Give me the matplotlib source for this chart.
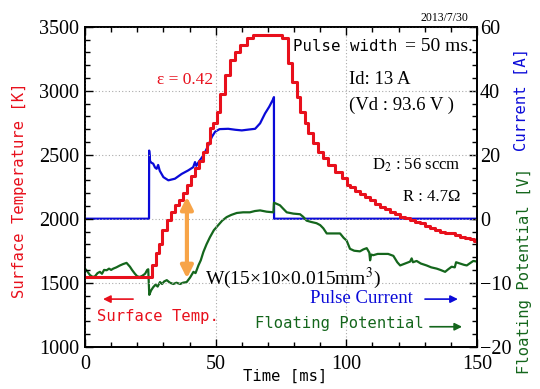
import matplotlib
matplotlib.use("Agg")
import matplotlib.pyplot as plt
from matplotlib.ticker import MultipleLocator, FixedLocator

plt.rcParams["font.family"] = ["Liberation Serif", "DejaVu Serif"]
plt.rcParams["mathtext.fontset"] = "stix"
MONO = "DejaVu Sans Mono"

RED = "#e8101c"
BLUE = "#0a0ad8"
GREEN = "#14661c"
ORANGE = "#f7a448"

# surface temperature [K], stepwise camera frames (time [ms], value)
t_temp = [0, 25.5, 27.0, 28.5, 29.5, 31.3, 32.8, 34.4, 36.0, 37.6, 39.0, 40.6,
          42.1, 43.6, 45.3, 46.6, 47.8, 49.1, 50.4, 51.7, 53.6, 55.5, 57.4,
          59.3, 61.9, 64.4, 75.5, 77.8, 79.1, 81.0, 82.3, 84.2, 85.5, 87.4,
          89.3, 91.2, 93.1, 95.7, 98.2, 100.1, 101.4, 103.5, 105.2, 107.2,
          109.1, 111.0, 112.9, 114.8, 116.7, 118.6, 120.6, 122.5, 124.4,
          126.3, 128.2, 130.1, 132.0, 134.0, 135.9, 137.8, 139.7, 141.6,
          143.5, 145.4, 147.3, 149.0, 150.0]
temp_k = [1548, 1640, 1730, 1800, 1912, 1990, 2050, 2110, 2150, 2200, 2260,
          2330, 2400, 2450, 2523, 2589, 2706, 2745, 2836, 2975, 3120, 3240,
          3305, 3360, 3410, 3435, 3410, 3214, 3070, 2953, 2836, 2745, 2667,
          2589, 2523, 2472, 2420, 2367, 2316, 2263, 2250, 2220, 2195, 2170,
          2146, 2118, 2094, 2075, 2055, 2035, 2016, 2003, 1990, 1977, 1964,
          1945, 1925, 1910, 1898, 1892, 1885, 1872, 1859, 1849, 1839, 1828,
          1820]

# pulse current [A]
t_cur = [0, 24.5, 24.55, 24.9, 25.4, 26.1, 26.8, 27.4, 28.0, 28.6, 30.0, 31.9,
         34.4, 37.0, 39.5, 41.4, 42.1, 42.6, 43.3, 45.3, 47.2, 48.5, 49.8,
         51.5, 54.8, 57.5, 60.0, 63.0, 65.1, 67.0, 68.9, 70.5, 72.1, 72.3,
         72.35, 150]
current_a = [0, 0, 21.3, 18.0, 17.5, 17.2, 16.0, 15.6, 16.8, 15.0, 13.0, 12.0,
             12.5, 14.0, 15.1, 16.1, 17.7, 16.5, 17.5, 19.8, 22.9, 25.5, 27.2,
             28.0, 28.1, 27.8, 27.6, 27.9, 28.1, 29.8, 32.9, 35.0, 37.5, 38.0,
             0, 0]

# floating potential [V]
t_fp = [0, 1.0, 1.9, 3.0, 3.8, 4.8, 5.7, 6.5, 7.3, 8.3, 9.2, 10.0, 10.8, 12.0,
        13.4, 14.5, 15.9, 17.2, 18.0, 19.1, 20.0, 21.0, 22.0, 23.0, 23.8,
        24.2, 24.6, 25.3, 26.1, 27.0, 27.8, 28.7, 29.5, 30.3, 31.3, 32.5,
        33.8, 35.0, 36.4, 37.5, 38.9, 40.2, 41.5, 42.3, 43.4, 44.3, 45.3,
        46.5, 47.8, 49.3, 51.0, 52.5, 54.2, 56.0, 58.1, 60.5, 63.1, 65.0,
        67.0, 69.5, 72.1, 72.3, 73.5, 74.6, 76.0, 77.2, 79.7, 82.3, 83.5,
        84.8, 86.5, 88.6, 90.0, 91.2, 92.5, 95.0, 97.6, 99.0, 100.1, 101.4,
        103.0, 105.2, 106.5, 107.8, 108.8, 109.1, 109.5, 110.3, 112.0, 114.2,
        116.0, 118.0, 119.5, 120.6, 122.5, 124.4, 125.0, 125.5, 126.9, 128.5,
        130.7, 132.5, 134.6, 136.0, 137.8, 139.0, 140.3, 141.5, 142.0, 143.5,
        145.0, 146.1, 147.5, 148.6, 150.0]
float_v = [-7.8, -8.3, -8.8, -9.1, -9.0, -8.5, -8.3, -8.6, -8.0, -8.05, -7.8,
           -8.0, -7.8, -7.6, -7.3, -7.1, -6.9, -7.5, -8.0, -8.6, -9.0, -9.1,
           -8.9, -8.6, -8.0, -7.9, -11.9, -11.2, -10.7, -10.3, -10.6, -9.9,
           -10.2, -9.8, -9.6, -10.0, -10.2, -10.0, -10.2, -10.0, -9.9, -9.2,
           -8.3, -8.5, -7.3, -6.5, -5.2, -4.0, -2.9, -1.8, -1.0, -0.3, 0.25,
           0.6, 0.9, 1.0, 1.0, 1.2, 1.3, 1.1, 1.0, 2.5, 2.3, 2.1, 1.5, 1.0,
           0.8, 0.7, 0.3, -0.3, -0.5, -0.7, -1.0, -1.5, -2.3, -2.3, -2.3, -3.0,
           -3.4, -4.7, -5.0, -5.1, -4.8, -4.6, -5.3, -6.5, -5.6, -5.7, -5.5,
           -5.5, -5.5, -5.8, -6.8, -7.3, -7.0, -6.7, -6.2, -6.8, -6.6, -7.0,
           -7.3, -7.6, -7.8, -8.0, -8.3, -7.9, -7.5, -7.6, -6.8, -7.0, -7.2,
           -7.3, -6.9, -6.6, -6.7]

fig = plt.figure(figsize=(5.4, 3.89), dpi=100)
ax = fig.add_axes([0.1574, 0.1087, 0.7259, 0.8226])
ax_i = ax.twinx()
ax_v = ax.twinx()
ax.set_zorder(ax_v.get_zorder() + 1)  # temperature drawn on top
ax.patch.set_visible(False)

ax_i.plot(t_cur, current_a, color=BLUE, lw=1.6)
ax_v.plot(t_fp, float_v, color=GREEN, lw=1.6)
ax.plot(t_temp, temp_k, drawstyle="steps-post", color=RED, lw=2.2)

ax.set_xlim(0, 150)
ax.set_ylim(1000, 3500)
ax_i.set_ylim(-40, 60)
ax_v.set_ylim(-20, 30)

ax.xaxis.set_major_locator(MultipleLocator(50))
ax.xaxis.set_minor_locator(MultipleLocator(10))
ax.yaxis.set_major_locator(MultipleLocator(500))
ax.yaxis.set_minor_locator(MultipleLocator(100))
ax_i.yaxis.set_major_locator(FixedLocator([0, 20, 40, 60]))
ax_i.yaxis.set_minor_locator(FixedLocator(range(0, 61, 4)))
ax_v.yaxis.set_major_locator(FixedLocator([-20, -10]))
ax_v.yaxis.set_minor_locator(FixedLocator(range(-20, 1, 2)))

ax.tick_params(which="both", direction="in", top=True, right=False,
               labelsize=14.5, width=1)
ax.tick_params(axis="y", pad=4)
ax.tick_params(axis="x", pad=6)
for a in (ax_i, ax_v):
    a.tick_params(which="both", direction="in", labelsize=14.5, width=1, pad=2)
for a in (ax, ax_i, ax_v):
    a.tick_params(which="major", length=6)
    a.tick_params(which="minor", length=3.5)
    for s in a.spines.values():
        s.set_linewidth(1.1)

ax.grid(which="major", color="#aaaaaa", ls=(0, (1, 2)), lw=0.8)

ax.set_ylabel("Surface Temperature [K]", color=RED, family=MONO, fontsize=11.2,
              va="center")
ax.yaxis.set_label_coords(-0.166, 0.489)
ax_i.set_ylabel("Current [A]", color=BLUE, family=MONO, fontsize=11.2,
                va="center")
ax_i.yaxis.set_label_coords(1.114, 0.773)
ax_v.set_ylabel("Floating Potential [V]", color=GREEN, family=MONO,
                fontsize=11.2, va="center")
ax_v.yaxis.set_label_coords(1.122, 0.238)
ax.set_xlabel("Time [ms]", family=MONO, fontsize=11.2, va="center")
ax.xaxis.set_label_coords(0.511, -0.094)

# annotations
ax.text(49.0, 3084, "ε = 0.42", color=RED, fontsize=12.5, ha="right", va="center")
ax.text(79.6, 3349, "Pulse width", family=MONO, fontsize=11.3, va="center")
ax.text(122.5, 3349, "= 50 ms.", fontsize=14, va="center")
ax.text(101.0, 3084, "Id: 13 A", fontsize=13.5, va="center")
ax.text(101.0, 2888, "(Vd : 93.6 V )", fontsize=13.5, va="center")
ax.text(143.8, 2420, "D$_2$ : 56 sccm", fontsize=12, ha="right", va="center")
ax.text(143.5, 2172, "R : 4.7Ω", fontsize=12, ha="right", va="center")
ax.text(45.9, 1534, "W(15×10×0.015mm$^3$)", fontsize=14, va="center")
ax.text(146.6, 3566, "2013/7/30", fontsize=8.5, ha="right", va="center",
        clip_on=False)

ax.annotate("", xy=(39.0, 2172), xytext=(39.0, 1534),
            arrowprops=dict(arrowstyle="<|-|>", color=ORANGE, lw=3,
                            mutation_scale=18, shrinkA=0, shrinkB=0))

ax.text(4.6, 1234, "Surface Temp.", color=RED, family=MONO, fontsize=11.2,
        va="center")
ax.annotate("", xy=(6.9, 1372), xytext=(18.4, 1372),
            arrowprops=dict(arrowstyle="-|>", color=RED, lw=1.2,
                            mutation_scale=11, shrinkA=0, shrinkB=0))
ax.text(86.1, 1378, "Pulse Current", color=BLUE, fontsize=13.5, va="center")
ax.annotate("", xy=(142.7, 1372), xytext=(130.1, 1372),
            arrowprops=dict(arrowstyle="-|>", color=BLUE, lw=1.2,
                            mutation_scale=11, shrinkA=0, shrinkB=0))
ax.text(65.0, 1183, "Floating Potential", color=GREEN, family=MONO,
        fontsize=11.2, va="center")
ax.annotate("", xy=(144.3, 1156), xytext=(132.0, 1156),
            arrowprops=dict(arrowstyle="-|>", color=GREEN, lw=1.2,
                            mutation_scale=11, shrinkA=0, shrinkB=0))

fig.savefig("out.png", dpi=100)
